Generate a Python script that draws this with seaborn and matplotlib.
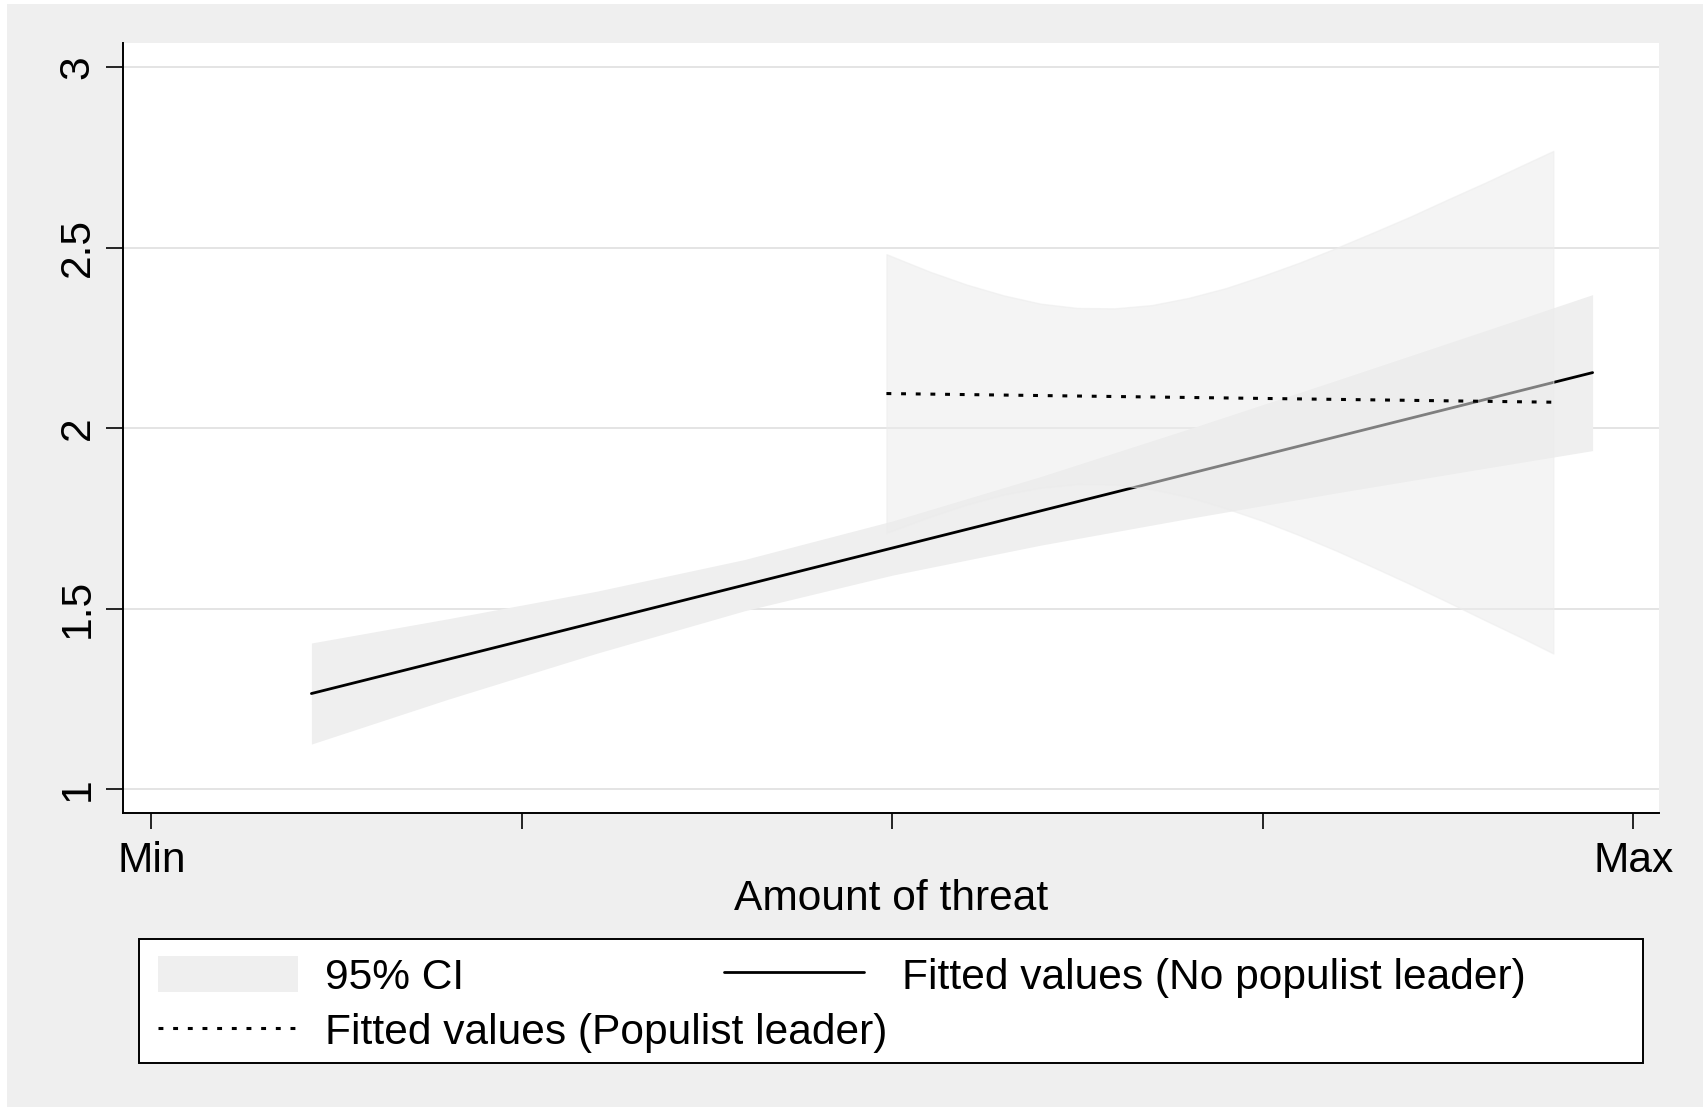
import matplotlib
matplotlib.use("Agg")
import matplotlib.pyplot as plt
from matplotlib.patches import Rectangle, Patch
from matplotlib.lines import Line2D
import seaborn as sns

# Fitted values and 95% confidence bands (threat scaled 0 = Min, 1 = Max)
threat_nopop = [0.108, 0.9725]
fit_nopop = [1.265, 2.154]
ci_nopop_x = [0.108, 0.2, 0.3, 0.4, 0.5, 0.6, 0.7, 0.8, 0.9, 0.9725]
ci_nopop_lo = [1.125, 1.249, 1.376, 1.494, 1.593, 1.676, 1.750, 1.821, 1.889, 1.938]
ci_nopop_hi = [1.405, 1.472, 1.548, 1.636, 1.743, 1.866, 1.998, 2.133, 2.270, 2.370]

threat_pop = [0.496, 0.946]
fit_pop = [2.096, 2.072]
ci_pop_x = [0.496, 0.525, 0.55, 0.575, 0.60, 0.625, 0.65, 0.675, 0.70, 0.725,
            0.75, 0.775, 0.80, 0.825, 0.85, 0.875, 0.90, 0.925, 0.946]
ci_pop_lo = [1.710, 1.754, 1.788, 1.816, 1.835, 1.845, 1.844, 1.831, 1.809, 1.778,
             1.743, 1.703, 1.660, 1.614, 1.567, 1.518, 1.468, 1.419, 1.376]
ci_pop_hi = [2.482, 2.434, 2.398, 2.368, 2.345, 2.333, 2.332, 2.341, 2.361, 2.388,
             2.422, 2.459, 2.500, 2.543, 2.587, 2.634, 2.680, 2.728, 2.768]

x_ticks = [0, 0.25, 0.5, 0.75, 1]
x_ticklabels = ["Min", "", "", "", "Max"]
y_ticks = [1, 1.5, 2, 2.5, 3]
y_ticklabels = ["1", "1.5", "2", "2.5", "3"]

sns.set_theme(style="white")
plt.rcParams["font.family"] = ["Liberation Sans", "DejaVu Sans"]
plt.rcParams["text.color"] = "black"
plt.rcParams["axes.labelcolor"] = "black"
plt.rcParams["xtick.color"] = "black"
plt.rcParams["ytick.color"] = "black"

W, H = 1708, 1111
FS = 30.6
BG = "#efefef"
BAND = "#efefef"

fig = plt.figure(figsize=(W / 100, H / 100), dpi=100, facecolor="white")
fig.patches.append(Rectangle((7 / W, 4 / H), 1 - 12 / W, 1 - 8 / H,
                             transform=fig.transFigure, facecolor=BG,
                             edgecolor="none", zorder=-10))

ax = fig.add_axes([122.6 / W, 1 - 813.4 / H, (1659 - 122.6) / W, (813.4 - 43) / H])
ax.set_facecolor("white")

# CI band of the no-populist fit
ax.fill_between(ci_nopop_x, ci_nopop_lo, ci_nopop_hi, color=BAND, lw=0, zorder=1)
sns.lineplot(x=threat_nopop, y=fit_nopop, color="black", lw=2.0, ax=ax, zorder=2)
# CI band of the populist fit, semi-transparent on top
ax.fill_between(ci_pop_x, ci_pop_lo, ci_pop_hi, facecolor=(236 / 255,) * 3, alpha=0.54,
                edgecolor=(236 / 255,) * 3, lw=1.0, zorder=3)
sns.lineplot(x=threat_pop, y=fit_pop, color="black", lw=2.2, ax=ax, zorder=4,
             linestyle=(0, (1.6, 3.2)), dash_capstyle="butt")

ax.set_xlim(-0.0194, 1.0173)
ax.set_ylim(0.933, 3.067)
ax.set_xticks(x_ticks)
ax.set_xticklabels(x_ticklabels)
ax.set_yticks(y_ticks)
ax.set_yticklabels(y_ticklabels, rotation=90, va="center")

ax.yaxis.grid(True, color="#e4e4e4", lw=1.4)
ax.xaxis.grid(False)
ax.set_axisbelow(True)

for side in ["top", "right"]:
    ax.spines[side].set_visible(False)
for side in ["left", "bottom"]:
    ax.spines[side].set_visible(True)
    ax.spines[side].set_color("black")
    ax.spines[side].set_linewidth(1.4)

ax.tick_params(axis="y", direction="out", length=12, width=1.2, color="black",
               labelsize=FS, pad=6, left=True, labelcolor="black")
ax.tick_params(axis="x", direction="out", length=11.5, width=1.2, color="black",
               labelsize=FS, pad=8.5, bottom=True, labelcolor="black")

ax.set_xlabel("Amount of threat", fontsize=FS, color="black")
ax.xaxis.set_label_coords(0.5, (813.4 - 899) / (813.4 - 43))
ax.xaxis.label.set_va("center")
ax.set_ylabel("")

# Legend box
fig.patches.append(Rectangle((139.4 / W, 1 - 1063 / H), (1642.6 - 139.4) / W, (1063 - 939) / H,
                             transform=fig.transFigure, facecolor="white",
                             edgecolor="black", lw=1.4, zorder=5))

h_ci = Patch(facecolor=BAND, edgecolor="none")
h_pop = Line2D([], [], color="black", lw=2.2, linestyle=(0, (1.6, 3.2)), dash_capstyle="butt")
h_nopop = Line2D([], [], color="black", lw=2.0)

leg_kw = dict(frameon=False, fontsize=FS, handlelength=3.3, handleheight=0.92,
              borderpad=0, borderaxespad=0, labelspacing=0.33)
leg1 = fig.legend([h_ci, h_pop], ["95% CI", "Fitted values (Populist leader)"],
                  loc="upper left", bbox_to_anchor=(158 / W, 1 - 956 / H),
                  handletextpad=0.62, labelcolor="black", **leg_kw)
leg2 = fig.legend([h_nopop], ["Fitted values (No populist leader)"],
                  loc="upper left", bbox_to_anchor=(724 / W, 1 - 956 / H),
                  handletextpad=0.88, labelcolor="black", **leg_kw)
for lg in (leg1, leg2):
    lg.set_zorder(6)

fig.savefig("out.png", dpi=100, facecolor="white")
